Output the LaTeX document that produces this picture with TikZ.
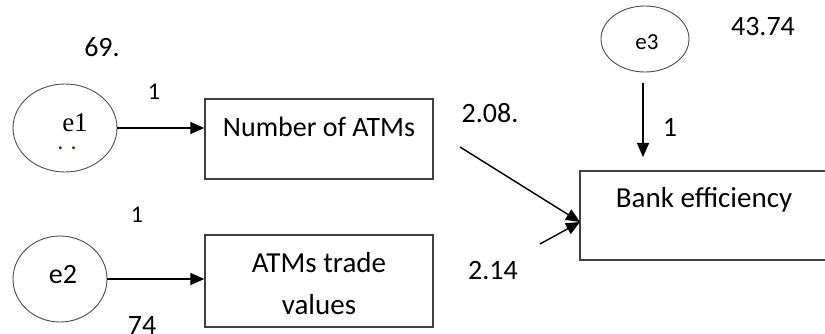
\documentclass[tikz,border=0pt]{standalone}
\usepackage{fontspec}
\setmainfont{Carlito}
\newfontfamily\serifface{Liberation Serif}
\usetikzlibrary{arrows.meta,shapes.geometric}
\begin{document}
\begin{tikzpicture}[x=1pt,y=-1pt,
  errnode/.style={ellipse,draw=black!70,line width=0.9pt,inner sep=0pt},
  varbox/.style={rectangle,draw=black!75,line width=1.3pt,inner sep=0pt},
  txt/.style={font=\fontsize{28}{32}\selectfont,inner sep=0pt},
  lbl/.style={font=\fontsize{24}{28}\selectfont,inner sep=0pt},
  arr/.style={line width=1.4pt,-{Triangle[length=14pt,width=12pt]}}]
\useasboundingbox (0,0) rectangle (825,334);
\clip (0,0) rectangle (825,334);
% error terms
\node[errnode,minimum width=104pt,minimum height=88pt] (e1) at (65,128) {};
\node[inner sep=0pt,font=\serifface\fontsize{27}{30}\selectfont] (e1t) at (75,123) {e1};
\node[lbl,text=black!70!orange] (e1d) at (67,148) {. .};
\node[errnode,minimum width=94pt,minimum height=86pt] (e2) at (60,279) {};
\node[txt] (e2t) at (63,275) {e2};
\node[errnode,minimum width=88pt,minimum height=66pt] (e3) at (645,39) {};
\node[txt,font=\fontsize{23}{26}\selectfont] (e3t) at (647,42) {e3};
% observed variables
\node[varbox,minimum width=228pt,minimum height=80pt] (num) at (319,139) {};
\node[txt] (numt) at (319,127) {Number of ATMs};
\node[varbox,minimum width=228pt,minimum height=92pt] (atv) at (319,281) {};
\node[txt,font=\fontsize{29}{42}\selectfont,align=center] (atvt) at (319,284) {ATMs trade\\values};
\node[varbox,minimum width=246pt,minimum height=89pt] (bank) at (703,215.5) {};
\node[txt,font=\fontsize{29}{32}\selectfont] (bankt) at (704,200) {Bank ef{}ficiency};
% connectors
\draw[arr] (e1.east) -- (num.west |- e1.east);
\draw[arr] (e2.east) -- (atv.west |- e2.east);
\coordinate (e3s) at (643,83);
\coordinate (e3e) at (643,157);
\draw[arr] (e3s) -- (e3e);
\coordinate (tip) at (580,222);
\coordinate (s1) at (460,147);
\coordinate (s2) at (540,244);
\draw[arr] (s1) -- (tip);
\draw[arr] (s2) -- (tip);
% labels
\node[txt] (l69) at (102,47) {69.};
\node[lbl] (l1a) at (154,92) {1};
\node[lbl] (l1b) at (137,215) {1};
\node[txt] (l74) at (142,326) {74};
\node[txt] (l208) at (490,113) {2.08.};
\node[txt] (l214) at (493,271) {2.14};
\node[txt] (l4374) at (763,27) {43.74};
\node[txt] (l1c) at (670,127) {1};
\end{tikzpicture}
\end{document}
